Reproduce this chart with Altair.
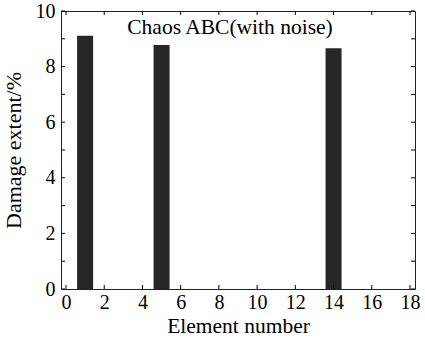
import altair as alt
import pandas as pd

elements = list(range(1, 18))
damage = [9.11, 0, 0, 0, 8.78, 0, 0, 0, 0, 0, 0, 0, 0, 8.66, 0, 0, 0]
x_ticks = [0, 2, 4, 6, 8, 10, 12, 14, 16, 18]
y_ticks = [0, 1, 2, 3, 4, 5, 6, 7, 8, 9, 10]
y_labels = [0, 2, 4, 6, 8, 10]
title_text = ["Chaos ABC(with noise)"]

W, H = 354, 278
FONT = "Liberation Serif"
TL = 4

bars_df = pd.DataFrame({"element": elements, "damage": damage})
xt_df = pd.DataFrame({"t": x_ticks})
yt_df = pd.DataFrame({"t": y_ticks})
title_df = pd.DataFrame({"label": title_text})

xscale = alt.Scale(domain=[0, 18], nice=False, zero=False)
yscale = alt.Scale(domain=[0, 10], nice=False)

xaxis = alt.Axis(values=x_ticks, title="Element number", ticks=False, domain=False,
                 grid=False, labelFlush=False, labelPadding=3, titlePadding=3,
                 titleFontSize=21.5)
yaxis = alt.Axis(values=y_labels, title="Damage extent/%", ticks=False, domain=False,
                 grid=False, labelFlush=False, labelPadding=6, titlePadding=10,
                 titleFontSize=22)

bars = alt.Chart(bars_df).mark_bar(size=16, color="#262626").encode(
    x=alt.X("element:Q", scale=xscale, axis=xaxis),
    y=alt.Y("damage:Q", scale=yscale, axis=yaxis),
)

bottom = alt.Chart(xt_df).mark_rule(color="black", strokeWidth=1).encode(
    x=alt.X("t:Q", scale=xscale, axis=xaxis), y=alt.value(H), y2=alt.value(H - TL))
top = alt.Chart(xt_df).mark_rule(color="black", strokeWidth=1).encode(
    x=alt.X("t:Q", scale=xscale, axis=xaxis), y=alt.value(0), y2=alt.value(TL))
left = alt.Chart(yt_df).mark_rule(color="black", strokeWidth=1).encode(
    y=alt.Y("t:Q", scale=yscale, axis=yaxis), x=alt.value(0), x2=alt.value(TL))
right = alt.Chart(yt_df).mark_rule(color="black", strokeWidth=1).encode(
    y=alt.Y("t:Q", scale=yscale, axis=yaxis), x=alt.value(W), x2=alt.value(W - TL))

title = alt.Chart(title_df).mark_text(
    font=FONT, fontSize=21.5, color="black", baseline="alphabetic", align="center"
).encode(text="label:N", x=alt.value(W / 2 - 8), y=alt.value(23))

chart = alt.layer(bars, bottom, top, left, right, title).properties(
    width=W, height=H,
    background="white",
    autosize=alt.AutoSizeParams(type="none"),
    padding={"left": 61, "top": 11, "right": 10, "bottom": 49},
).configure_view(stroke="#222222", strokeWidth=1).configure_axis(
    labelFont=FONT, labelFontSize=20, labelColor="black",
    titleFont=FONT, titleFontWeight="normal", titleColor="black",
)

chart.save("out.html", embed_options={"renderer": "svg", "actions": False})
